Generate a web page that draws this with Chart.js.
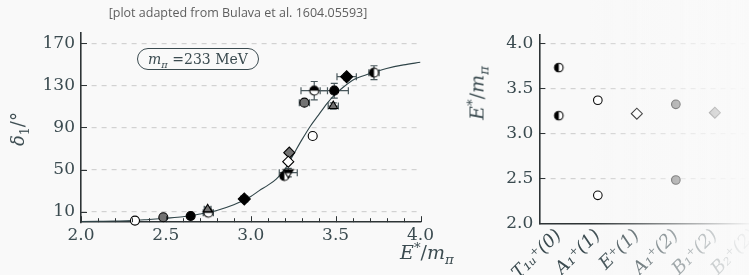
<!DOCTYPE html>
<html>
<head>
<meta charset="utf-8">
<script src="https://cdn.jsdelivr.net/npm/chart.js@4.4.0/dist/chart.umd.min.js"></script>
<style>
html, body { margin: 0; padding: 0; background: #f9f9f9; }
#wrap { position: relative; width: 749px; height: 275px; overflow: hidden; background: #f9f9f9; }
canvas { position: absolute; top: 0; }
#c1 { left: 0; }
#c2 { left: 440px; }
.lbl { position: absolute; font-family: 'DejaVu Serif', serif; color: #3b4b50; white-space: nowrap; line-height: 1; }
.lbl sub, .lbl sup { font-size: 70%; line-height: 0; }
#title { left: 0; width: 476px; top: 7px; text-align: center; font-family: 'Open Sans', sans-serif; font-size: 12.5px; color: #5e5e5e; }
#mpi { left: 137px; top: 48px; width: 120px; height: 20px; border: 1.3px solid #3b4b50; border-radius: 11px; font-size: 14px; text-align: center; line-height: 21px; }
#ylab1 { left: 18px; top: 129px; font-size: 18px; transform: translate(-50%, -50%) rotate(-90deg); }
#xlab1 { left: 400px; top: 243px; font-size: 19px; }
#ylab2 { left: 477px; top: 93px; font-size: 19px; transform: translate(-50%, -50%) rotate(-90deg); }
#fade { position: absolute; left: 590px; top: 0; width: 159px; height: 275px;
  background: linear-gradient(to right, rgba(249,249,249,0), rgba(249,249,249,0.97)); }
</style>
</head>
<body>
<div id="wrap">
  <canvas id="c1" width="440" height="275"></canvas>
  <canvas id="c2" width="340" height="275"></canvas>
  <div id="fade"></div>
  <div class="lbl" id="title">[plot adapted from Bulava et al. 1604.05593]</div>
  <div class="lbl" id="mpi"><i>m</i><sub><i>π</i></sub> =233 MeV</div>
  <div class="lbl" id="ylab1"><i>δ</i><sub>1</sub>/°</div>
  <div class="lbl" id="xlab1"><i>E</i><sup>*</sup>/<i>m</i><sub><i>π</i></sub></div>
  <div class="lbl" id="ylab2"><i>E</i><sup>*</sup>/<i>m</i><sub><i>π</i></sub></div>
</div>
<script>
// left panel: phase shift vs energy
const fitE     = [2.0, 2.1, 2.2, 2.3, 2.4, 2.5, 2.6, 2.7, 2.8, 2.9, 3.0, 3.05, 3.1, 3.15, 3.2, 3.25, 3.3, 3.35, 3.4, 3.45, 3.5, 3.55, 3.6, 3.7, 3.8, 3.9, 4.0];
const fitDelta = [0.5, 0.8, 1.1, 1.5, 2.6, 3.8, 5.2, 7.8, 11.2, 16.5, 24.5, 30, 35, 41, 50, 64, 78, 91, 102, 113, 122, 129, 135, 141, 146, 149.5, 152];

const halfLeftE = [3.198, 3.726], halfLeftD = [43.9, 142.1], halfLeftErrE = [0.01, 0.03], halfLeftErrD = [2, 6.6];
const openCircE = [2.318, 3.365], openCircD = [1.5, 81.9];
const openDiaE = [3.221], openDiaD = [57.5];
const grayCircE = [2.485, 3.316], grayCircD = [4.7, 113.6], grayCircErrE = [0, 0.03], grayCircErrD = [0, 1.5];
const grayDiaE = [3.227], grayDiaD = [66.1];
const blackCircE = [2.646, 3.492], blackCircD = [5.9, 125], blackCircErrE = [0, 0.083], blackCircErrD = [0, 7];
const grayTriE = [2.746, 3.486], grayTriD = [12.3, 110.4], grayTriErrE = [0.02, 0.03], grayTriErrD = [2, 3];
const halfTopE = [2.75, 3.374], halfTopD = [9, 125], halfTopErrE = [0.03, 0.078], halfTopErrD = [1, 8.7];
const blackDiaE = [2.962, 3.565], blackDiaD = [22.1, 138.3], blackDiaErrE = [0.02, 0.057], blackDiaErrD = [2, 3];
const downTriE = [3.221], downTriD = [47.1], downTriErrE = [0.053], downTriErrD = [4];

const deltaTicks = [10, 50, 90, 130, 170];
const energyTicks = [2.0, 2.5, 3.0, 3.5, 4.0];

// right panel: levels per irrep
const irreps = ['T₁ᵤ⁺(0)', 'A₁⁺(1)', 'E⁺(1)', 'A₁⁺(2)', 'B₁⁺(2)', 'B₂⁺(2)'];
const levelTicks = [2.0, 2.5, 3.0, 3.5, 4.0];
const t1uLevels = [3.73, 3.196];
const a1oneLevels = [3.367, 2.311];
const eoneLevels = [3.218];
const a1twoLevels = [3.322, 2.481];
const b1twoLevels = [3.229];

const ink = '#3b4b50';
const axisInk = '#2e3436';
const gray = '#727272';
const serif = "'DejaVu Serif', serif";

function marker(kind, r) {
  const c = document.createElement('canvas');
  const s = Math.ceil(2 * r + 4);
  c.width = s; c.height = s;
  const g = c.getContext('2d');
  const m = s / 2;
  g.lineWidth = 1.1;
  g.strokeStyle = '#000';
  if (kind === 'halfLeft' || kind === 'halfTop') {
    g.beginPath(); g.arc(m, m, r, 0, Math.PI * 2); g.fillStyle = '#fff'; g.fill();
    g.beginPath();
    if (kind === 'halfLeft') g.arc(m, m, r, Math.PI / 2, Math.PI * 1.5);
    else g.arc(m, m, r, Math.PI, Math.PI * 2);
    g.closePath(); g.fillStyle = '#000'; g.fill();
    g.beginPath(); g.arc(m, m, r, 0, Math.PI * 2); g.stroke();
  } else if (kind === 'downTri') {
    g.beginPath(); g.moveTo(m - r, m - r * 0.6); g.lineTo(m + r, m - r * 0.6); g.lineTo(m, m + r); g.closePath();
    g.fillStyle = '#fff'; g.fill(); g.stroke();
    g.beginPath(); g.moveTo(m - r, m - r * 0.6); g.lineTo(m + r, m - r * 0.6); g.lineTo(m + r * 0.55, m + 0.1 * r); g.lineTo(m - r * 0.55, m + 0.1 * r); g.closePath();
    g.fillStyle = '#000'; g.fill();
  }
  return c;
}

function pts(xs, ys) { return xs.map((x, i) => ({ x: x, y: ys[i] })); }

const errorBars = {
  id: 'errorBars',
  beforeDatasetsDraw(chart) {
    const { ctx, scales: { x, y } } = chart;
    ctx.save();
    ctx.strokeStyle = '#4a585c';
    ctx.lineWidth = 1.2;
    chart.data.datasets.forEach(ds => {
      if (!ds.errX) return;
      ds.data.forEach((p, i) => {
        const px = x.getPixelForValue(p.x), py = y.getPixelForValue(p.y);
        const ex = ds.errX[i], ey = ds.errY[i];
        ctx.beginPath();
        if (ex > 0) {
          const a = x.getPixelForValue(p.x - ex), b = x.getPixelForValue(p.x + ex);
          ctx.moveTo(a, py); ctx.lineTo(b, py);
          ctx.moveTo(a, py - 3.5); ctx.lineTo(a, py + 3.5);
          ctx.moveTo(b, py - 3.5); ctx.lineTo(b, py + 3.5);
        }
        if (ey > 0) {
          const a = y.getPixelForValue(p.y - ey), b = y.getPixelForValue(p.y + ey);
          ctx.moveTo(px, a); ctx.lineTo(px, b);
          ctx.moveTo(px - 3.5, a); ctx.lineTo(px + 3.5, a);
          ctx.moveTo(px - 3.5, b); ctx.lineTo(px + 3.5, b);
        }
        ctx.stroke();
      });
    });
    ctx.restore();
  }
};

// ticks pointing inwards, like the original figure
const innerTicks = {
  id: 'innerTicks',
  afterDraw(chart, args, opts) {
    const { ctx, chartArea, scales: { x, y } } = chart;
    ctx.save();
    ctx.strokeStyle = axisInk;
    ctx.lineWidth = 1;
    ctx.beginPath();
    (opts.y || []).forEach(v => {
      const py = Math.round(y.getPixelForValue(v)) + 0.5;
      ctx.moveTo(chartArea.left, py); ctx.lineTo(chartArea.left + 6, py);
    });
    (opts.xMajor || []).forEach(v => {
      const px = Math.round(x.getPixelForValue(v)) + 0.5;
      ctx.moveTo(px, chartArea.bottom); ctx.lineTo(px, chartArea.bottom - 6);
    });
    (opts.xMinor || []).forEach(v => {
      const px = Math.round(x.getPixelForValue(v)) + 0.5;
      ctx.moveTo(px, chartArea.bottom); ctx.lineTo(px, chartArea.bottom - 4);
    });
    ctx.stroke();
    ctx.restore();
  }
};

const minorE = [];
for (let k = 21; k < 40; k++) if (k % 5) minorE.push(k / 10);

const tickFont = { family: serif, size: 17 };

function scatterSet(xs, ys, style, extra) {
  return Object.assign({
    type: 'scatter',
    data: pts(xs, ys),
    pointStyle: style,
    pointRadius: 4.5,
    pointBorderColor: '#000',
    pointBorderWidth: 1.1,
    clip: false,
    order: 1
  }, extra);
}

new Chart(document.getElementById('c1'), {
  type: 'scatter',
  data: {
    datasets: [
      { type: 'line', data: pts(fitE, fitDelta), borderColor: '#2f4448', borderWidth: 1.1, pointRadius: 0,
        cubicInterpolationMode: 'monotone', fill: false, order: 10 },
      scatterSet(openCircE, openCircD, 'circle', { pointBackgroundColor: '#fff' }),
      scatterSet(grayCircE, grayCircD, 'circle', { pointBackgroundColor: gray, errX: grayCircErrE, errY: grayCircErrD }),
      scatterSet(blackCircE, blackCircD, 'circle', { pointBackgroundColor: '#000', errX: blackCircErrE, errY: blackCircErrD }),
      scatterSet(grayTriE, grayTriD, 'triangle', { pointBackgroundColor: gray, pointRadius: 5, errX: grayTriErrE, errY: grayTriErrD }),
      scatterSet(halfTopE, halfTopD, marker('halfTop', 4.5), { errX: halfTopErrE, errY: halfTopErrD }),
      scatterSet(blackDiaE, blackDiaD, 'rectRot', { pointBackgroundColor: '#000', pointRadius: 6, errX: blackDiaErrE, errY: blackDiaErrD }),
      scatterSet(downTriE, downTriD, marker('downTri', 5), { errX: downTriErrE, errY: downTriErrD }),
      scatterSet(halfLeftE, halfLeftD, marker('halfLeft', 4.5), { errX: halfLeftErrE, errY: halfLeftErrD }),
      scatterSet(openDiaE, openDiaD, 'rectRot', { pointBackgroundColor: '#fff', pointRadius: 5.5 }),
      scatterSet(grayDiaE, grayDiaD, 'rectRot', { pointBackgroundColor: gray, pointRadius: 5.5 })
    ]
  },
  options: {
    responsive: false,
    animation: false,
    events: [],
    layout: { padding: { top: 32.8, right: 19.5, left: 0, bottom: 0 } },
    plugins: { legend: { display: false }, tooltip: { enabled: false },
      innerTicks: { y: deltaTicks, xMajor: energyTicks, xMinor: minorE } },
    scales: {
      x: {
        type: 'linear', min: 2.0, max: 4.0,
        afterBuildTicks: s => { s.ticks = energyTicks.map(v => ({ value: v })); },
        afterFit: s => { s.height = 52.8; },
        grid: { display: false, drawTicks: false },
        border: { display: true, color: axisInk, width: 1.6 },
        ticks: { color: ink, font: tickFont, padding: 3, maxRotation: 0, callback: v => v.toFixed(1) }
      },
      y: {
        min: 0, max: 180,
        afterBuildTicks: s => { s.ticks = deltaTicks.map(v => ({ value: v })); },
        afterFit: s => { s.width = 81; },
        grid: { color: '#d2d2d2', lineWidth: 1.2, drawTicks: false },
        border: { display: true, color: axisInk, width: 1.6, dash: [5, 5] },
        ticks: { color: ink, font: tickFont, padding: 6 }
      }
    }
  },
  plugins: [errorBars, innerTicks]
});

function levelSet(cat, vals, style, extra) {
  return Object.assign({
    data: vals.map(v => ({ x: cat, y: v })),
    showLine: false,
    pointStyle: style,
    pointRadius: 4.3,
    pointBorderColor: '#000',
    pointBorderWidth: 1.1,
    clip: false
  }, extra);
}

new Chart(document.getElementById('c2'), {
  type: 'line',
  data: {
    labels: irreps,
    datasets: [
      levelSet(irreps[0], t1uLevels, marker('halfLeft', 4.3)),
      levelSet(irreps[1], a1oneLevels, 'circle', { pointBackgroundColor: '#fff' }),
      levelSet(irreps[2], eoneLevels, 'rectRot', { pointBackgroundColor: '#fff', pointRadius: 5.5 }),
      levelSet(irreps[3], a1twoLevels, 'circle', { pointBackgroundColor: gray }),
      levelSet(irreps[4], b1twoLevels, 'rectRot', { pointBackgroundColor: gray, pointRadius: 5.5 })
    ]
  },
  options: {
    responsive: false,
    animation: false,
    events: [],
    layout: { padding: { top: 35, right: 5, left: 0, bottom: 0 } },
    plugins: { legend: { display: false }, tooltip: { enabled: false }, innerTicks: { y: levelTicks } },
    scales: {
      x: {
        type: 'category', offset: true,
        afterFit: s => { s.height = 51.7; },
        grid: { display: false, drawTicks: false },
        border: { display: true, color: axisInk, width: 1.6 },
        ticks: { color: ink, font: { family: serif, size: 18, style: 'italic' },
          padding: 2, minRotation: 45, maxRotation: 45, autoSkip: false }
      },
      y: {
        min: 2.0, max: 4.092,
        afterBuildTicks: s => { s.ticks = levelTicks.map(v => ({ value: v })); },
        afterFit: s => { s.width = 99.3; },
        grid: { color: '#d2d2d2', lineWidth: 1.2, drawTicks: false },
        border: { display: true, color: axisInk, width: 1.6, dash: [5, 5] },
        ticks: { color: ink, font: tickFont, padding: 6, callback: v => v.toFixed(1) }
      }
    }
  },
  plugins: [innerTicks]
});
</script>
</body>
</html>
